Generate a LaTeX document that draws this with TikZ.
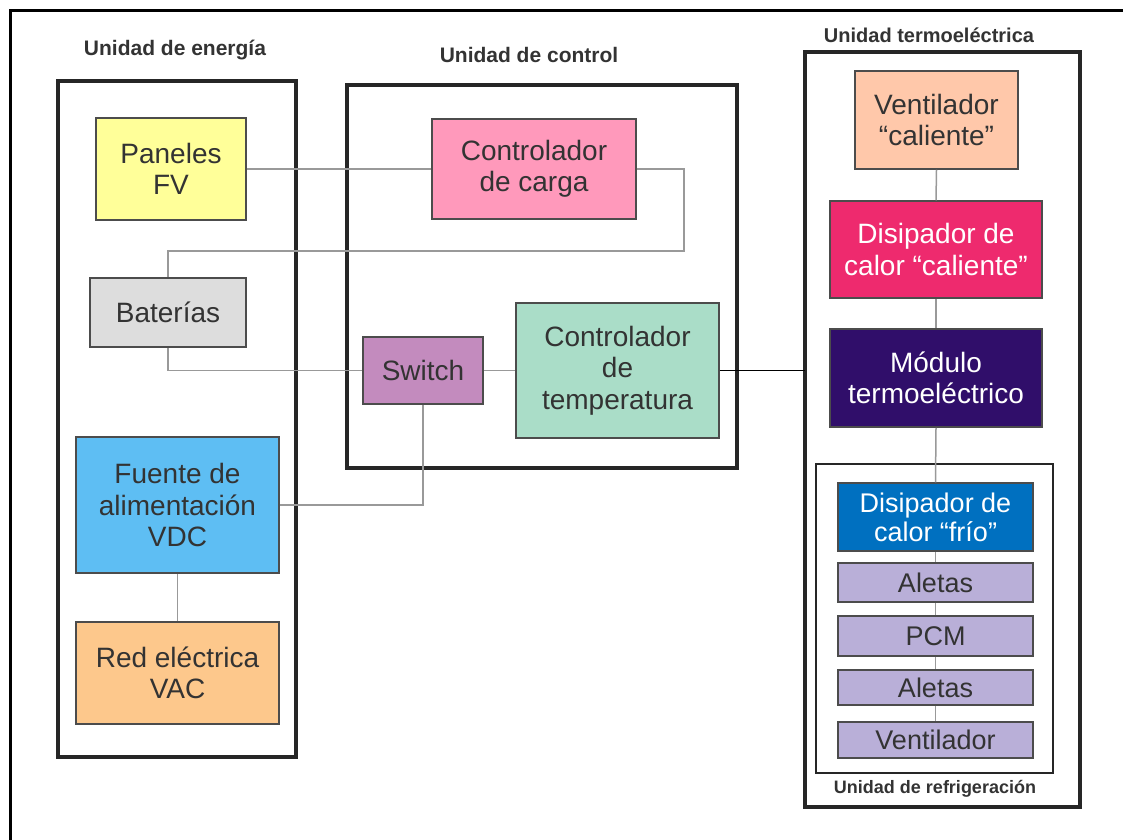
\documentclass[tikz,border=0pt]{standalone}
\usepackage{fontspec}
\setmainfont{Liberation Sans}
\definecolor{amarilloFV}{RGB}{255,255,153}
\definecolor{grisBat}{RGB}{221,221,221}
\definecolor{azulFuente}{RGB}{94,190,243}
\definecolor{naranjaRed}{RGB}{253,200,140}
\definecolor{rosaCarga}{RGB}{255,153,187}
\definecolor{moradoSwitch}{RGB}{195,139,190}
\definecolor{verdeTemp}{RGB}{170,221,200}
\definecolor{salmonVent}{RGB}{255,200,170}
\definecolor{fucsiaDis}{RGB}{238,42,110}
\definecolor{violetaMod}{RGB}{48,14,106}
\definecolor{azulFrio}{RGB}{0,112,192}
\definecolor{lilaAletas}{RGB}{185,175,216}
\definecolor{textoGris}{RGB}{51,51,51}
\tikzset{
  unidad/.style={draw=black!85, line width=3.5pt},
  bloque/.style={draw=black!70, line width=1.5pt, align=center, inner sep=0pt,
    font=\fontsize{28}{31.5}\selectfont, text=textoGris},
  capa/.style={bloque, fill=lilaAletas, minimum width=195,
    font=\fontsize{27}{29}\selectfont},
  titulo/.style={font=\bfseries\fontsize{21}{24}\selectfont, text=textoGris},
  cable/.style={draw=black!40, line width=1.5pt},
}

\begin{document}
\begin{tikzpicture}[x=1pt,y=-1pt]
  \useasboundingbox (0,0) rectangle (1123,839);
  \clip (0,0) rectangle (1123,839);
  \draw[line width=3pt] (10,850) -- (10,10) -- (1130,10);

  % unidad de energia
  \draw[unidad] (58,81) rectangle (296,757);
  \node[titulo] (tenergia) at (175,50) {Unidad de energía};
  \node[bloque, fill=amarilloFV, minimum width=150, minimum height=102] (paneles) at (171,169) {Paneles\\FV};
  \node[bloque, fill=grisBat, minimum width=156, minimum height=69] (baterias) at (168,312.5) {Baterías};
  \node[bloque, fill=azulFuente, minimum width=203, minimum height=136] (fuente) at (177.5,505) {Fuente de\\alimentación\\VDC};
  \node[bloque, fill=naranjaRed, minimum width=203, minimum height=102] (red) at (177.5,673) {Red eléctrica\\VAC};

  % unidad de control
  \draw[unidad] (347,85) rectangle (737,468);
  \node[titulo] (tcontrol) at (529,55) {Unidad de control};
  \node[bloque, fill=rosaCarga, minimum width=204, minimum height=100] (carga) at (534,169) {Controlador\\de carga};
  \node[bloque, fill=moradoSwitch, minimum width=120, minimum height=67] (switch) at (423,370.5) {Switch};
  \node[bloque, fill=verdeTemp, minimum width=203, minimum height=135] (temp) at (617.5,370.5) {Controlador\\de\\temperatura};

  % unidad termoelectrica
  \draw[unidad] (805,52) rectangle (1080,807);
  \node[titulo, font=\bfseries\fontsize{20}{23}\selectfont] (ttermo) at (929,35) {Unidad termoeléctrica};
  \node[bloque, fill=salmonVent, minimum width=163, minimum height=98] (ventcal) at (936.5,120) {Ventilador\\“caliente”};
  \node[bloque, fill=fucsiaDis, text=white, minimum width=212, minimum height=97] (discal) at (936,249.5) {Disipador de\\calor “caliente”};
  \node[bloque, fill=violetaMod, text=white, minimum width=212, minimum height=98] (modulo) at (936,378) {Módulo\\termoeléctrico};

  % unidad de refrigeracion
  \draw[draw=black!85, line width=2.5pt] (816,464) rectangle (1053,773);
  \node[titulo, font=\bfseries\fontsize{18}{20}\selectfont] (trefri) at (935,789) {Unidad de refrigeración};
  \node[capa, fill=azulFrio, text=white, minimum height=68] (disfrio) at (935.5,517) {Disipador de\\calor “frío”};
  \node[capa, minimum height=39] (aletasA) at (935.5,582.5) {Aletas};
  \node[capa, minimum height=40] (pcm) at (935.5,636) {PCM};
  \node[capa, minimum height=35] (aletasB) at (935.5,687.5) {Aletas};
  \node[capa, minimum height=36] (vent) at (935.5,740) {Ventilador};

  % conexiones
  \coordinate (retorno) at (684,251);
  \coordinate (entrada) at (805,370.5);
  \draw[cable] (paneles.east) -- (carga.west);
  \draw[cable] (carga.east) -| (retorno) -| (baterias.north);
  \draw[cable] (baterias.south) |- (switch.west);
  \draw[cable] (switch.east) -- (temp.west);
  \draw[cable] (switch.south) |- (fuente.east);
  \draw[cable] (fuente.south) -- (red.north);
  \draw[line width=1.5pt, black] (temp.east) -- (entrada);
  \foreach \a/\b in {ventcal/discal, discal/modulo, modulo/disfrio, disfrio/aletasA, aletasA/pcm, pcm/aletasB, aletasB/vent}
    \draw[cable] (\a.south) -- (\b.north);
\end{tikzpicture}
\end{document}
